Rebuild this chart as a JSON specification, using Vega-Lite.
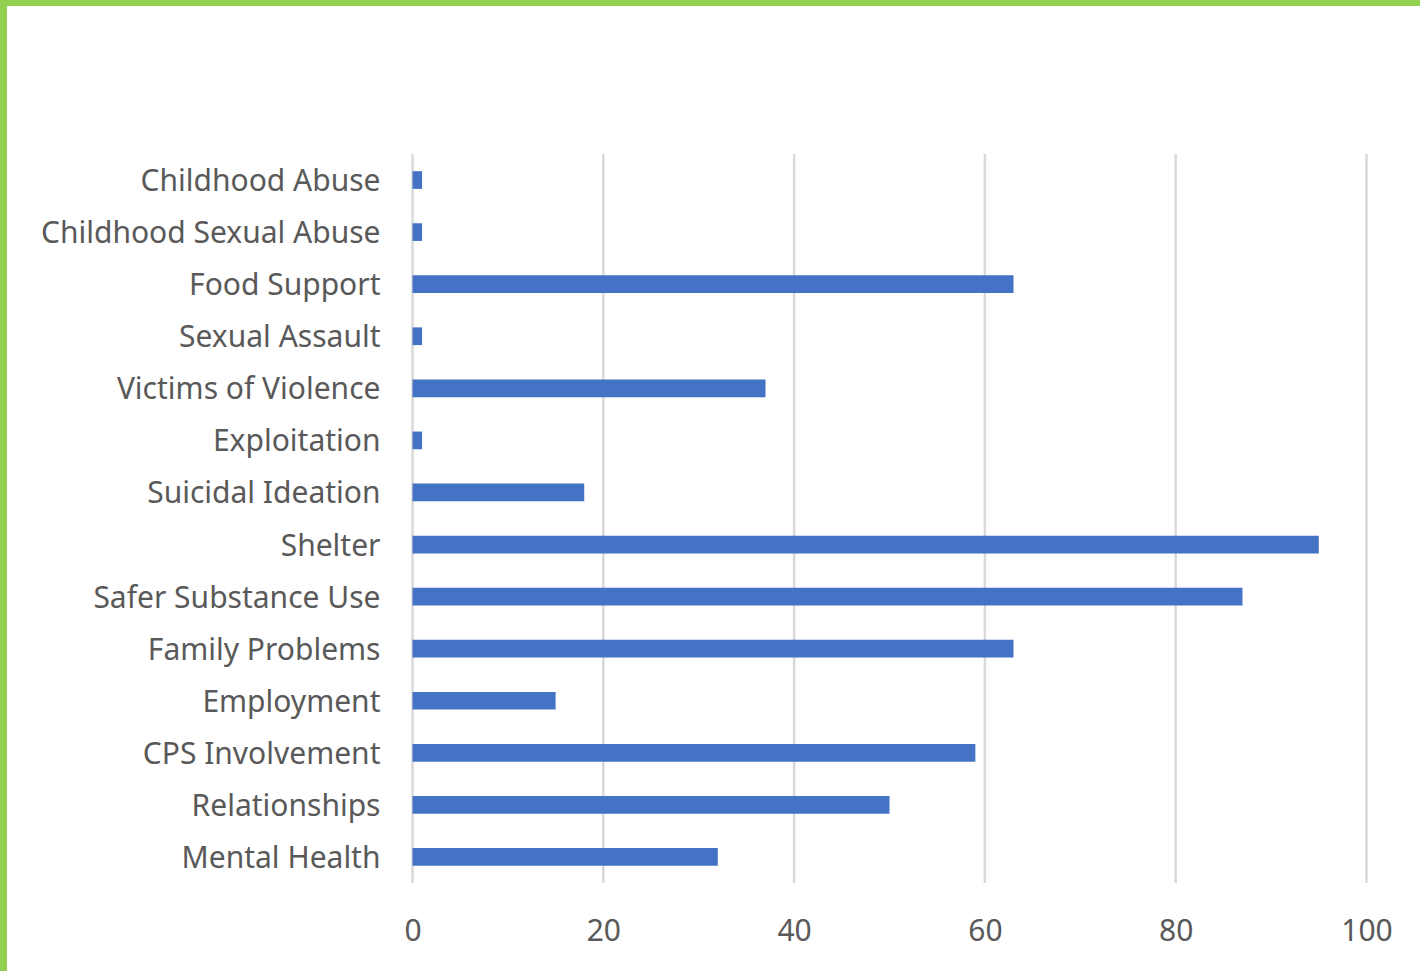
{
  "$schema": "https://vega.github.io/schema/vega-lite/v6.json",
  "width": 1413,
  "height": 965,
  "autosize": {"type": "none"},
  "padding": {"left": 7, "top": 6, "right": 0, "bottom": 0},
  "background": "#92D050",
  "config": {
    "view": {"fill": "white", "stroke": null},
    "font": "Noto Sans"
  },
  "datasets": {
    "grid": [{"v": 0}, {"v": 20}, {"v": 40}, {"v": 60}, {"v": 80}, {"v": 100}],
    "needs": [
      {"need": "Childhood Abuse", "count": 1},
      {"need": "Childhood Sexual Abuse", "count": 1},
      {"need": "Food Support", "count": 63},
      {"need": "Sexual Assault", "count": 1},
      {"need": "Victims of Violence", "count": 37},
      {"need": "Exploitation", "count": 1},
      {"need": "Suicidal Ideation", "count": 18},
      {"need": "Shelter", "count": 95},
      {"need": "Safer Substance Use", "count": 87},
      {"need": "Family Problems", "count": 63},
      {"need": "Employment", "count": 15},
      {"need": "CPS Involvement", "count": 59},
      {"need": "Relationships", "count": 50},
      {"need": "Mental Health", "count": 32}
    ]
  },
  "layer": [
    {
      "data": {"name": "grid"},
      "mark": {"type": "rule", "color": "#d9d9d9", "strokeWidth": 2.5, "yOffset": -26, "y2Offset": 26},
      "encoding": {
        "x": {
          "field": "v", "type": "quantitative",
          "scale": {"domain": [-42.51, 105.61], "nice": false, "zero": false},
          "axis": {
            "title": null, "values": [0, 20, 40, 60, 80, 100], "grid": false, "domain": false, "ticks": false,
            "labelPadding": 0, "offset": -31, "labelBaseline": "alphabetic",
            "labelFontSize": 30, "labelColor": "#595959", "labelFont": "Noto Sans"
          }
        },
        "y": {"datum": "Childhood Abuse", "type": "nominal"},
        "y2": {"datum": "Mental Health"}
      }
    },
    {
      "data": {"name": "needs"},
      "mark": {"type": "bar", "color": "#4472C4", "height": {"band": 0.34}},
      "encoding": {
        "x": {
          "field": "count", "type": "quantitative",
          "scale": {"domain": [-42.51, 105.61], "nice": false, "zero": false},
          "axis": {
            "title": null, "values": [0, 20, 40, 60, 80, 100], "grid": false, "domain": false, "ticks": false,
            "labelPadding": 0, "offset": -31, "labelBaseline": "alphabetic",
            "labelFontSize": 30, "labelColor": "#595959", "labelFont": "Noto Sans"
          }
        },
        "y": {
          "field": "need", "type": "nominal", "sort": null,
          "scale": {
            "domain": ["Childhood Abuse", "Childhood Sexual Abuse", "Food Support", "Sexual Assault", "Victims of Violence", "Exploitation", "Suicidal Ideation", "Shelter", "Safer Substance Use", "Family Problems", "Employment", "CPS Involvement", "Relationships", "Mental Health"],
            "range": [148, 877], "paddingInner": 0, "paddingOuter": 0
          },
          "axis": {
            "title": null, "domain": false, "ticks": false, "grid": false,
            "labelPadding": 0, "offset": -373, "labelOffset": 2, "labelFontSize": 30, "labelColor": "#595959",
            "labelFont": "Noto Sans", "labelLimit": 400
          }
        }
      }
    }
  ]
}
